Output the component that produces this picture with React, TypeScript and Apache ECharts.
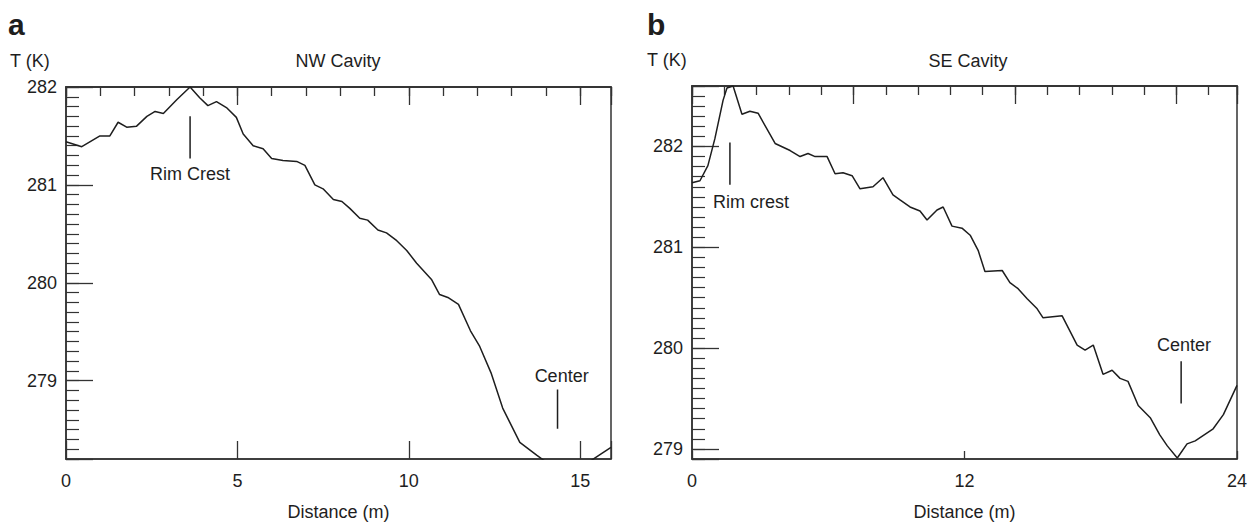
import React, { useEffect, useRef } from "react";
import * as echarts from "echarts";

// ---- Data ----
const NW_X = [0, 0.46, 0.99, 1.28, 1.52, 1.77, 2.06, 2.36, 2.6, 2.84, 3.23, 3.62, 3.9, 4.14, 4.39, 4.68, 4.97, 5.17, 5.46, 5.75, 6.0, 6.33, 6.73, 6.97, 7.26, 7.5, 7.8, 8.05, 8.28, 8.57, 8.8, 9.1, 9.35, 9.65, 9.94, 10.23, 10.67, 10.9, 11.14, 11.45, 11.8, 12.07, 12.4, 12.74, 13.24, 13.73, 14.2, 14.8, 15.3, 15.6, 15.9];
const NW_Y = [281.44, 281.39, 281.5, 281.5, 281.64, 281.59, 281.6, 281.7, 281.75, 281.73, 281.87, 282.0, 281.89, 281.81, 281.85, 281.79, 281.69, 281.52, 281.4, 281.37, 281.27, 281.25, 281.24, 281.2, 281.0, 280.96, 280.85, 280.83, 280.76, 280.66, 280.64, 280.54, 280.51, 280.43, 280.33, 280.2, 280.03, 279.88, 279.85, 279.78, 279.51, 279.35, 279.08, 278.72, 278.37, 278.24, 278.12, 278.08, 278.18, 278.25, 278.32];

const SE_X = [0, 0.35, 0.7, 1.01, 1.37, 1.54, 1.81, 2.2, 2.55, 2.91, 3.66, 4.32, 4.76, 5.11, 5.42, 5.95, 6.3, 6.65, 7.05, 7.4, 7.97, 8.41, 8.85, 9.16, 9.6, 10.04, 10.35, 10.79, 11.06, 11.45, 11.89, 12.25, 12.6, 12.9, 13.66, 14.0, 14.36, 14.76, 15.2, 15.46, 16.3, 16.96, 17.31, 17.67, 18.1, 18.5, 18.85, 19.2, 19.65, 20.18, 20.6, 20.93, 21.37, 21.8, 22.16, 22.95, 23.4, 24.0];
const SE_Y = [281.64, 281.66, 281.81, 282.08, 282.46, 282.58, 282.6, 282.32, 282.35, 282.33, 282.03, 281.96, 281.9, 281.93, 281.9, 281.9, 281.73, 281.74, 281.71, 281.58, 281.6, 281.69, 281.52, 281.47, 281.4, 281.36, 281.27, 281.37, 281.4, 281.21, 281.19, 281.12, 280.97, 280.76, 280.77, 280.65, 280.59, 280.49, 280.39, 280.3, 280.32, 280.03, 279.98, 280.03, 279.74, 279.78, 279.7, 279.67, 279.43, 279.31, 279.14, 279.03, 278.91, 279.05, 279.08, 279.2, 279.34, 279.63];

const NW_X_RANGE = [0, 15.9];
const NW_Y_RANGE = [278.2, 282];
const SE_X_RANGE = [0, 24];
const SE_Y_RANGE = [278.9, 282.6];
const SE_TOP_SCALE_MAX = 16.875;

const NW_TICKS_X = 5;
const SE_TICKS_X = 12;

const NW_RIM_LINE = [[3.62, 281.7], [3.62, 281.27]];
const NW_RIM_LABEL = [3.62, 281.11];
const NW_CENTER_LINE = [[14.34, 278.91], [14.34, 278.51]];
const NW_CENTER_LABEL = [14.46, 279.05];
const SE_RIM_LINE = [[1.67, 282.04], [1.67, 281.62]];
const SE_RIM_LABEL = [2.6, 281.45];
const SE_CENTER_LINE = [[21.54, 279.87], [21.54, 279.45]];
const SE_CENTER_LABEL = [21.67, 280.03];

const FONT = '"Liberation Sans", Arial, Helvetica, sans-serif';
const INK = "#1e1e1e";
const AX = "#333";

const intLabel = (v: number) =>
  Math.abs(v - Math.round(v)) < 1e-6 ? String(Math.round(v)) : "";

const zip = (xs: number[], ys: number[]) => xs.map((x, i) => [x, ys[i]]);

function App() {
  const ref = useRef<HTMLDivElement>(null);
  useEffect(() => {
    document.body.style.margin = "0";
    const chart = echarts.init(ref.current!, null, { renderer: "svg" });

    const grid = (left: number, top: number) => ({
      left, top, width: 545, height: 381,
      show: true, borderColor: AX, borderWidth: 1.5, backgroundColor: "transparent",
    });

    const labelStyle = { fontSize: 18, color: INK, fontFamily: FONT };

    const xBottom = (gi: number, range: number[], interval: number, tickLen: number) => ({
      type: "value", gridIndex: gi, position: "bottom",
      min: range[0], max: range[1], interval,
      axisLine: { show: true, onZero: false, lineStyle: { color: AX, width: 1.5 } },
      axisTick: { show: true, inside: true, length: tickLen, lineStyle: { color: AX, width: 1.3 } },
      axisLabel: { ...labelStyle, margin: 13, formatter: intLabel },
      splitLine: { show: false },
      name: "Distance (m)", nameLocation: "middle", nameGap: 44,
      nameTextStyle: { ...labelStyle },
    });
    const xTop = (gi: number, max: number, interval: number, tickLen: number) => ({
      type: "value", gridIndex: gi, position: "top",
      min: 0, max, interval,
      axisLine: { show: true, onZero: false, lineStyle: { color: AX, width: 1.5 } },
      axisTick: { show: true, inside: true, length: tickLen, lineStyle: { color: AX, width: 1.3 } },
      axisLabel: { show: false },
      splitLine: { show: false },
    });
    const yMajor = (gi: number, range: number[]) => ({
      type: "value", gridIndex: gi, position: "left",
      min: range[0], max: range[1], minInterval: 1, maxInterval: 1,
      axisLine: { show: true, onZero: false, lineStyle: { color: AX, width: 1.5 } },
      axisTick: { show: true, inside: true, length: 27, lineStyle: { color: AX, width: 1.3 } },
      axisLabel: { ...labelStyle, margin: 9, formatter: intLabel },
      splitLine: { show: false },
    });
    const yMinor = (gi: number, range: number[]) => ({
      type: "value", gridIndex: gi, position: "left",
      min: range[0], max: range[1], interval: 0.1,
      axisLine: { show: false },
      axisTick: { show: true, inside: true, length: 13, lineStyle: { color: AX, width: 1.2 } },
      axisLabel: { show: false },
      splitLine: { show: false },
    });

    const curve = (xi: number, yi: number, data: number[][], w = 1.5) => ({
      type: "line", xAxisIndex: xi, yAxisIndex: yi, data,
      showSymbol: false, symbol: "none", clip: true, silent: true,
      lineStyle: { color: INK, width: w },
    });
    const note = (xi: number, yi: number, pt: number[], text: string) => ({
      type: "scatter", xAxisIndex: xi, yAxisIndex: yi, data: [pt],
      symbolSize: 0, silent: true,
      itemStyle: { opacity: 1, color: INK },
      label: {
        show: true, position: "inside", formatter: text, ...labelStyle,
        opacity: 1, textBorderWidth: 0,
      },
    });

    const titleText = (text: string, x: number, y: number, size: number, bold = false, align = "left") => ({
      type: "text", x, y, silent: true,
      style: {
        text, fill: INK,
        font: `${bold ? "bold " : ""}${size}px ${FONT}`,
        fontSize: size, fontWeight: bold ? "bold" : "normal", fontFamily: FONT,
        align, textAlign: align, verticalAlign: "middle", textVerticalAlign: "middle",
      },
    });

    chart.setOption({
      animation: false,
      backgroundColor: "#ffffff",
      grid: [grid(66, 87), grid(692, 86)],
      xAxis: [
        xBottom(0, NW_X_RANGE, NW_TICKS_X, 18),          // 0
        xTop(0, NW_X_RANGE[1], 5, 18),                   // 1
        xTop(0, NW_X_RANGE[1], 1, 9),                    // 2
        xBottom(1, SE_X_RANGE, SE_TICKS_X, 8),           // 3
        xTop(1, SE_TOP_SCALE_MAX, 5, 18),                // 4
        xTop(1, SE_TOP_SCALE_MAX, 1, 9),                 // 5
      ],
      yAxis: [
        yMajor(0, NW_Y_RANGE), // 0
        yMinor(0, NW_Y_RANGE), // 1
        yMajor(1, SE_Y_RANGE), // 2
        yMinor(1, SE_Y_RANGE), // 3
      ],
      graphic: [
        titleText("a", 8, 24, 30, true),
        titleText("T (K)", 10, 61, 18),
        titleText("NW Cavity", 338, 61, 18, false, "center"),
        titleText("b", 647, 24, 30, true),
        titleText("T (K)", 647, 60, 18),
        titleText("SE Cavity", 968, 61, 18, false, "center"),
      ],
      series: [
        curve(0, 0, zip(NW_X, NW_Y)),
        curve(3, 2, zip(SE_X, SE_Y)),
        curve(0, 0, NW_RIM_LINE, 1.5),
        curve(0, 0, NW_CENTER_LINE, 1.5),
        curve(3, 2, SE_RIM_LINE, 1.5),
        curve(3, 2, SE_CENTER_LINE, 1.5),
        note(0, 0, NW_RIM_LABEL, "Rim Crest"),
        note(0, 0, NW_CENTER_LABEL, "Center"),
        note(3, 2, SE_RIM_LABEL, "Rim crest"),
        note(3, 2, SE_CENTER_LABEL, "Center"),
      ],
    });
    return () => chart.dispose();
  }, []);
  return <div ref={ref} style={{ width: 1256, height: 526 }} />;
}

export default App;
